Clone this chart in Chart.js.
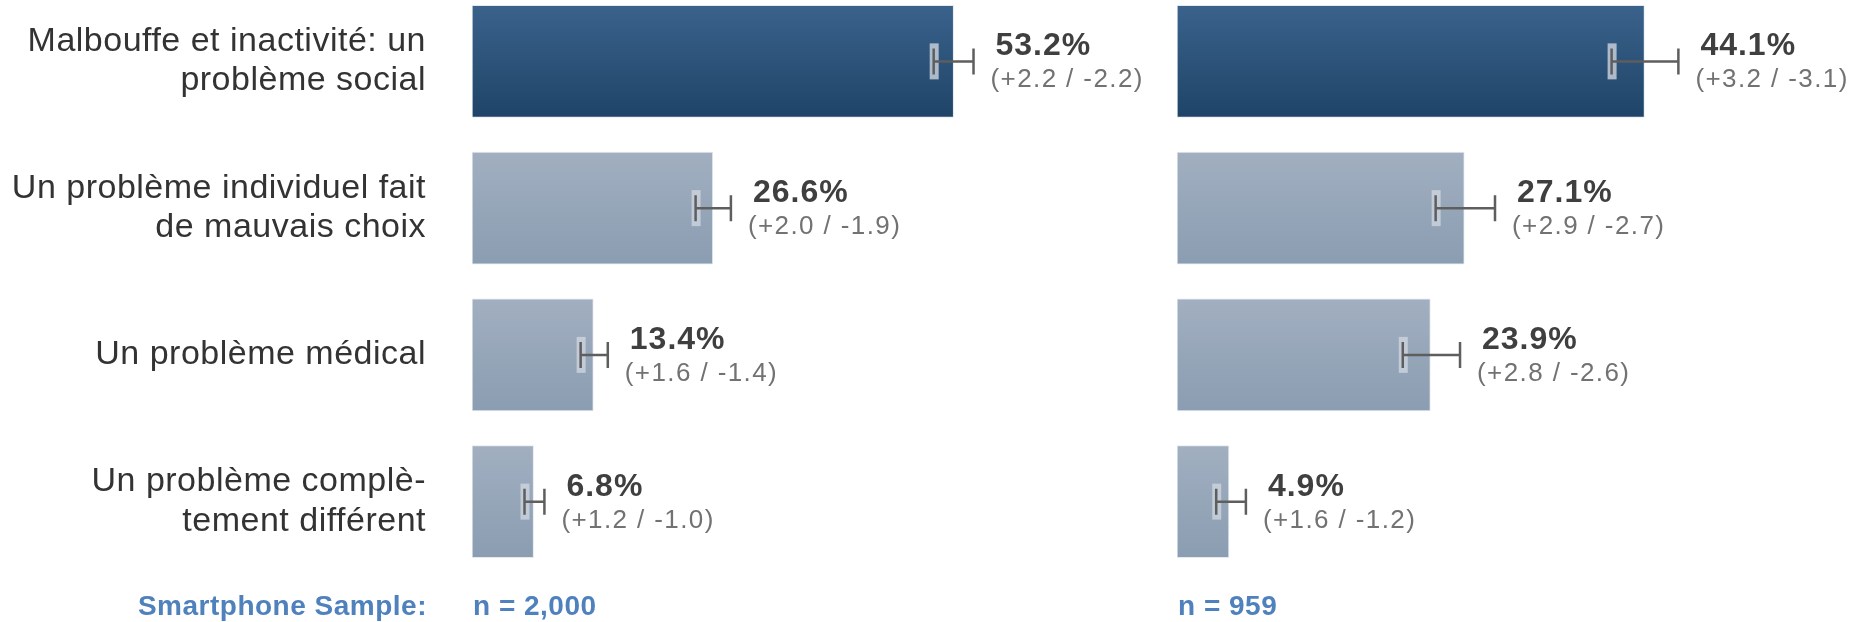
<!DOCTYPE html>
<html>
<head>
<meta charset="utf-8">
<script src="https://cdn.jsdelivr.net/npm/chart.js@4/dist/chart.umd.min.js"></script>
<style>
  html, body { margin: 0; padding: 0; background: #fff; overflow: hidden; }
  #wrap { position: relative; width: 1866px; height: 622px; }
  canvas { position: absolute; top: -12px; }
  #left-chart { left: 0; }
  #right-chart { left: 1177px; }
</style>
</head>
<body>
<div id="wrap">
  <canvas id="left-chart" width="1160" height="634"></canvas>
  <canvas id="right-chart" width="689" height="634"></canvas>
</div>
<script>
// categories (multi-line labels as arrays)
const categories = [
    ["Malbouffe et inactivité: un", "problème social"],
    ["Un problème individuel fait", "de mauvais choix"],
    ["Un problème médical"],
    ["Un problème complè-", "tement différent"]
];

// left panel (n = 2,000)
const leftValues = [53.2, 26.6, 13.4, 6.8];
const leftPlus = [2.2, 2.0, 1.6, 1.2];
const leftMinus = [2.2, 1.9, 1.4, 1.0];

// right panel (n = 959)
const rightValues = [44.1, 27.1, 23.9, 4.9];
const rightPlus = [3.2, 2.9, 2.8, 1.6];
const rightMinus = [3.1, 2.7, 2.6, 1.2];

const sampleTitle = "Smartphone Sample:";
const leftSample = "n = 2,000";
const rightSample = "n = 959";

const FONT = "'Liberation Sans', Arial, sans-serif";

// gradient for each bar, dark one for the first category
function barFill(context) {
    let chart = context.chart;
    let ys = chart.scales.y;
    let dark = context.dataIndex === 0;
    if (!chart.chartArea || !ys) return dark ? '#2c5279' : '#95a6b9';
    let yc = ys.getPixelForValue(context.dataIndex);
    let g = chart.ctx.createLinearGradient(0, yc - 56, 0, yc + 56);
    if (dark) {
        g.addColorStop(0, '#3a628b');
        g.addColorStop(1, '#1f4468');
    } else {
        g.addColorStop(0, '#a1afc0');
        g.addColorStop(1, '#8b9db2');
    }
    return g;
}

function makeChart(id, values, plus, minus, xMax, showAxis, sampleText) {
    let errorBars = {
        id: 'errorBars',
        afterDatasetsDraw(chart) {
            let ctx = chart.ctx;
            let xs = chart.scales.x, ys = chart.scales.y;
            ctx.save();
            values.forEach((v, i) => {
                let y = ys.getPixelForValue(i);
                let lo = xs.getPixelForValue(v - minus[i]);
                let hi = xs.getPixelForValue(v + plus[i]);

                // light box behind lower cap
                ctx.fillStyle = 'rgba(205,213,223,0.8)';
                ctx.fillRect(lo - 4, y - 18, 9, 36);

                ctx.strokeStyle = '#5e5e5e';
                ctx.lineWidth = 2.5;
                ctx.beginPath();
                ctx.moveTo(lo, y);
                ctx.lineTo(hi, y);
                ctx.moveTo(lo, y - 13);
                ctx.lineTo(lo, y + 13);
                ctx.moveTo(hi, y - 13);
                ctx.lineTo(hi, y + 13);
                ctx.stroke();

                // value labels
                let tx = hi + 22;
                ctx.textAlign = 'left';
                ctx.textBaseline = 'alphabetic';
                ctx.letterSpacing = '1px';
                ctx.font = 'bold 32px ' + FONT;
                ctx.fillStyle = '#3f3f3f';
                ctx.fillText(v.toFixed(1) + '%', tx, y - 6);

                ctx.letterSpacing = '1.4px';
                ctx.font = '26px ' + FONT;
                ctx.fillStyle = '#727272';
                ctx.fillText('(+' + plus[i].toFixed(1) + ' / -' + minus[i].toFixed(1) + ')', tx - 5, y + 26);
            });

            // sample size line at the bottom
            ctx.letterSpacing = '0.5px';
            ctx.font = 'bold 28px ' + FONT;
            ctx.fillStyle = '#4f81bd';
            let base = 627;
            if (showAxis) {
                ctx.textAlign = 'right';
                ctx.fillText(sampleTitle, 427, base);
            }
            ctx.textAlign = 'left';
            ctx.fillText(sampleText, chart.chartArea.left + 1, base);
            ctx.restore();
        }
    };

    let tickSpacing = {
        id: 'tickSpacing',
        beforeDraw(chart) { chart.ctx.letterSpacing = '0.5px'; },
        afterDraw(chart) { chart.ctx.letterSpacing = '0px'; }
    };

    return new Chart(document.getElementById(id), {
        type: 'bar',
        data: {
            labels: categories,
            datasets: [{
                data: values,
                backgroundColor: barFill,
                borderColor: 'rgba(225,231,238,0.9)',
                borderWidth: 1,
                borderSkipped: false,
                barThickness: 112
            }]
        },
        options: {
            indexAxis: 'y',
            responsive: false,
            animation: false,
            layout: { padding: { top: 0, bottom: 47, left: 0, right: 0 } },
            plugins: {
                legend: { display: false },
                tooltip: { enabled: false }
            },
            scales: {
                x: {
                    display: false,
                    min: 0,
                    max: xMax
                },
                y: {
                    display: showAxis,
                    position: 'left',
                    grid: { display: false, drawTicks: false },
                    border: { display: false },
                    ticks: {
                        color: '#333333',
                        padding: 46,
                        font: { family: FONT, size: 34, lineHeight: 1.15 }
                    },
                    afterFit: (scale) => {
                        scale.width = showAxis ? 472 : 0;
                        scale.paddingTop = 0;
                        scale.paddingBottom = 0;
                    }
                }
            }
        },
        plugins: [tickSpacing, errorBars]
    });
}

let leftChart = makeChart('left-chart', leftValues, leftPlus, leftMinus, 76, true, leftSample);
let rightChart = makeChart('right-chart', rightValues, rightPlus, rightMinus, 65, false, rightSample);
</script>
</body>
</html>
